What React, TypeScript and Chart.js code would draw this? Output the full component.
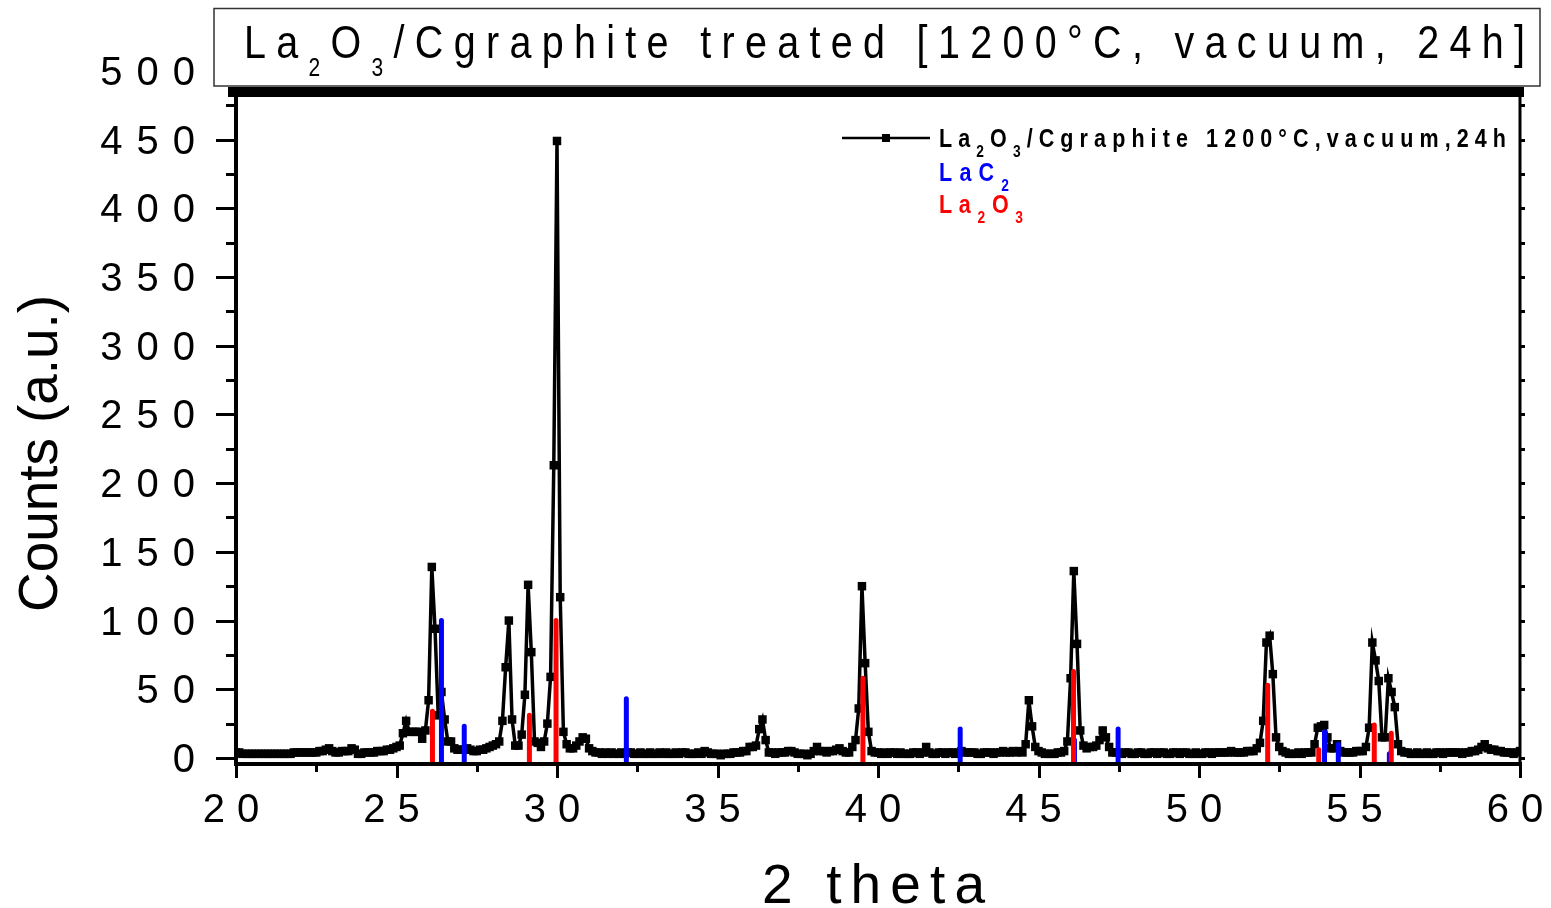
import React, { useEffect, useRef } from "react";
import { Chart, registerables } from "chart.js";

Chart.register(...registerables);

// ---------- data ----------
const thetaStart = 20;
const thetaStep = 0.1;
// measured counts, 20.0 .. 60.0 (one row per degree)
const counts: number[] = [
  4, 4, 3, 3, 3, 3, 3, 3, 3, 3,
  3, 3, 3, 3, 3, 3, 3, 3, 4, 4,
  4, 4, 4, 4, 4, 4, 5, 5, 6, 7,
  5, 4, 4, 5, 5, 5, 7, 6, 3, 3,
  4, 4, 4, 4, 5, 5, 5, 6, 6, 7,
  8, 9, 18, 27, 19, 19, 19, 19, 14, 20,
  42, 139, 94, 31, 48, 28, 12, 12, 7, 6,
  6, 6, 7, 6, 5, 5, 6, 6, 7, 8,
  9, 10, 12, 27, 66, 100, 28, 9, 9, 17,
  46, 126, 77, 12, 11, 8, 12, 25, 59, 213,
  449, 117, 19, 10, 7, 7, 9, 12, 15, 14,
  7, 5, 4, 4, 3, 4, 3, 4, 3, 3,
  4, 3, 4, 4, 3, 3, 4, 3, 3, 4,
  3, 3, 4, 3, 4, 3, 3, 4, 3, 4,
  4, 3, 3, 3, 4, 3, 5, 4, 3, 3,
  3, 2, 3, 3, 3, 4, 4, 4, 5, 5,
  8, 8, 9, 21, 28, 13, 4, 4, 3, 4,
  4, 4, 5, 5, 4, 3, 3, 3, 2, 3,
  5, 8, 5, 5, 4, 5, 5, 6, 7, 5,
  4, 4, 8, 13, 36, 125, 69, 19, 5, 4,
  4, 3, 4, 3, 4, 4, 3, 4, 3, 3,
  3, 4, 4, 3, 4, 8, 4, 3, 3, 4,
  4, 3, 4, 4, 3, 4, 5, 4, 4, 4,
  4, 3, 3, 4, 4, 4, 3, 4, 4, 5,
  4, 4, 5, 4, 5, 4, 10, 42, 23, 8,
  5, 4, 3, 3, 3, 3, 4, 4, 5, 12,
  58, 136, 83, 20, 9, 7, 8, 8, 9, 13,
  20, 15, 8, 4, 4, 4, 3, 4, 4, 3,
  3, 4, 4, 3, 3, 4, 4, 3, 4, 4,
  3, 3, 4, 4, 3, 4, 4, 3, 3, 4,
  3, 3, 4, 4, 3, 4, 4, 4, 4, 4,
  5, 4, 4, 4, 4, 5, 5, 5, 7, 11,
  27, 84, 89, 61, 15, 8, 5, 4, 3, 3,
  3, 4, 3, 4, 4, 4, 10, 22, 23, 24,
  15, 7, 7, 10, 5, 4, 4, 4, 4, 5,
  5, 5, 8, 22, 84, 71, 56, 15, 15, 58,
  48, 37, 10, 5, 4, 4, 3, 3, 4, 3,
  3, 4, 3, 3, 4, 4, 3, 4, 4, 4,
  4, 4, 3, 4, 4, 5, 5, 6, 8, 10,
  7, 6, 6, 5, 5, 4, 4, 4, 3, 4,
  5,
];

// reference stick patterns
const la2o3Positions = [26.12, 29.14, 29.97, 39.53, 46.09, 52.14, 53.73, 55.46, 55.99];
const la2o3Intensities = [34, 31, 100, 58, 63, 53, 6, 24, 18];
const lac2Positions = [26.4, 27.11, 32.16, 42.56, 46.12, 47.48, 53.91, 54.34, 55.93];
const lac2Intensities = [100, 23, 43, 21, 13, 21, 19, 10, 3];

const xTicks = [20, 25, 30, 35, 40, 45, 50, 55, 60];
const yTicks = [0, 50, 100, 150, 200, 250, 300, 350, 400, 450, 500];

const X_MIN = 20;
const X_MAX = 60;
const Y_MIN = -4.4;
const Y_MAX = 481;

const FONT = '"Liberation Sans", Arial, Helvetica, sans-serif';

type Seg = { t: string; sub?: boolean };

interface RichOpts {
  size: number;
  subSize?: number;
  subDy?: number;
  weight?: string;
  color: string;
  fit?: number;
  spacing?: number;
  sx?: number;
  align?: "left" | "center" | "right";
}

function drawRich(ctx: CanvasRenderingContext2D, segs: Seg[], x: number, y: number, o: RichOpts) {
  const weight = o.weight || "normal";
  const subSize = o.subSize || o.size * 0.6;
  const sx = o.sx || 1;
  const chars: { ch: string; sub: boolean; w: number }[] = [];
  for (const s of segs) {
    ctx.font = `${weight} ${s.sub ? subSize : o.size}px ${FONT}`;
    for (const ch of s.t) chars.push({ ch, sub: !!s.sub, w: ctx.measureText(ch).width * sx });
  }
  const sum = chars.reduce((a, c) => a + c.w, 0);
  const n = chars.length;
  let sp = o.spacing || 0;
  if (o.fit != null && n > 1) sp = (o.fit - sum) / (n - 1);
  const total = sum + sp * (n - 1);
  let cx = x;
  if (o.align === "center") cx = x - total / 2;
  else if (o.align === "right") cx = x - total;
  ctx.fillStyle = o.color;
  ctx.textAlign = "left";
  ctx.textBaseline = "alphabetic";
  for (const c of chars) {
    ctx.font = `${weight} ${c.sub ? subSize : o.size}px ${FONT}`;
    ctx.save();
    ctx.translate(cx, c.sub ? y + (o.subDy || 0) : y);
    ctx.scale(sx, 1);
    ctx.fillText(c.ch, 0, 0);
    ctx.restore();
    cx += c.w + sp;
  }
}

const framePlugin = {
  id: "xrdFrame",
  afterDraw(chart: any) {
    const ctx: CanvasRenderingContext2D = chart.ctx;
    const xs = chart.scales.x;
    const ys = chart.scales.y;
    const a = chart.chartArea;
    ctx.save();
    (ctx as any).letterSpacing = "0px";
    ctx.strokeStyle = "#000";
    ctx.fillStyle = "#000";
    ctx.lineCap = "butt";

    // axis lines
    ctx.lineWidth = 4;
    ctx.beginPath();
    ctx.moveTo(a.left, a.top);
    ctx.lineTo(a.left, a.bottom + 2);
    ctx.stroke();
    ctx.beginPath();
    ctx.moveTo(a.left - 2, a.bottom);
    ctx.lineTo(a.right + 2, a.bottom);
    ctx.stroke();
    ctx.lineWidth = 3;
    ctx.beginPath();
    ctx.moveTo(a.right, a.top);
    ctx.lineTo(a.right, a.bottom);
    ctx.stroke();
    // thick top bar
    ctx.fillRect(a.left - 8, a.top - 10, a.right - a.left + 12, 10);

    // y ticks (left outward, right outward small)
    ctx.lineWidth = 3;
    for (let v = 0; v < Y_MAX; v += 25) {
      const py = Math.round(ys.getPixelForValue(v)) + 0.5;
      const major = v % 50 === 0;
      ctx.beginPath();
      ctx.moveTo(a.left - (major ? 20 : 10), py);
      ctx.lineTo(a.left, py);
      ctx.stroke();
      ctx.beginPath();
      ctx.moveTo(a.right, py);
      ctx.lineTo(a.right + 5, py);
      ctx.stroke();
    }
    // x ticks (downward)
    for (let v = X_MIN; v <= X_MAX; v += 2.5) {
      const px = Math.round(xs.getPixelForValue(v)) + 0.5;
      const major = v % 5 === 0;
      ctx.beginPath();
      ctx.moveTo(px, a.bottom);
      ctx.lineTo(px, a.bottom + (major ? 14 : 8));
      ctx.stroke();
    }

    // y tick labels
    for (const v of yTicks) {
      const py = ys.getPixelForValue(v);
      drawRich(ctx, [{ t: String(v) }], 195, py + 14, {
        size: 40,
        color: "#000",
        spacing: 14,
        align: "right",
      });
    }
    // x tick labels
    for (const v of xTicks) {
      const px = xs.getPixelForValue(v);
      drawRich(ctx, [{ t: String(v) }], px - 5, 822, {
        size: 40,
        color: "#000",
        spacing: 12,
        align: "center",
      });
    }

    // axis titles
    drawRich(ctx, [{ t: "2 theta" }], 762, 903, { size: 55, color: "#000", fit: 223 });
    ctx.save();
    ctx.translate(57, 612);
    ctx.rotate(-Math.PI / 2);
    drawRich(ctx, [{ t: "Counts (a.u.)" }], 0, 0, { size: 55, color: "#000", fit: 317 });
    ctx.restore();

    // title box
    ctx.fillStyle = "#fff";
    ctx.fillRect(214, 8, 1326, 78);
    ctx.lineWidth = 1.5;
    ctx.strokeStyle = "#333";
    ctx.strokeRect(214, 8.5, 1326, 77.5);
    drawRich(
      ctx,
      [
        { t: "La" },
        { t: "2", sub: true },
        { t: "O" },
        { t: "3", sub: true },
        { t: "/Cgraphite treated [1200°C, vacuum, 24h]" },
      ],
      244,
      58,
      { size: 47, subSize: 25, subDy: 18, sx: 0.84, color: "#000", fit: 1281 }
    );

    // legend
    ctx.strokeStyle = "#000";
    ctx.lineWidth = 2.5;
    ctx.beginPath();
    ctx.moveTo(842, 138);
    ctx.lineTo(930, 138);
    ctx.stroke();
    ctx.fillStyle = "#000";
    ctx.fillRect(882, 134, 8, 8);
    drawRich(
      ctx,
      [
        { t: "La" },
        { t: "2", sub: true },
        { t: "O" },
        { t: "3", sub: true },
        { t: "/Cgraphite 1200°C,vacuum,24h" },
      ],
      939,
      147,
      { size: 25, subSize: 16, subDy: 10, sx: 0.86, weight: "bold", color: "#000", fit: 567 }
    );
    drawRich(ctx, [{ t: "LaC" }, { t: "2", sub: true }], 939, 181, {
      size: 25,
      subSize: 16,
      subDy: 10,
      sx: 0.86,
      weight: "bold",
      color: "#0000ff",
      fit: 70,
    });
    drawRich(
      ctx,
      [{ t: "La" }, { t: "2", sub: true }, { t: "O" }, { t: "3", sub: true }],
      939,
      213,
      { size: 25, subSize: 16, subDy: 10, sx: 0.86, weight: "bold", color: "#ff0000", fit: 84 }
    );

    ctx.restore();
  },
};

function sticks(pos: number[], inten: number[]) {
  const out: { x: number; y: number | null }[] = [];
  pos.forEach((p, i) => {
    out.push({ x: p, y: Y_MIN });
    out.push({ x: p, y: inten[i] });
    out.push({ x: p, y: null });
  });
  return out;
}

export default function App() {
  const ref = useRef<HTMLCanvasElement | null>(null);

  useEffect(() => {
    if (!ref.current) return;
    const pts = counts.map((v, i) => ({ x: +(thetaStart + i * thetaStep).toFixed(2), y: v }));
    const chart = new Chart(ref.current, {
      type: "line",
      data: {
        datasets: [
          {
            label: "La2O3/Cgraphite 1200°C,vacuum,24h",
            data: pts,
            borderColor: "#000",
            backgroundColor: "#000",
            borderWidth: 3.5,
            pointStyle: "rect",
            pointRadius: 6,
            pointBorderWidth: 0,
            pointBackgroundColor: "#000",
            tension: 0,
            order: 3,
          } as any,
          {
            label: "LaC2",
            data: sticks(lac2Positions, lac2Intensities),
            borderColor: "#0000ff",
            borderWidth: 5,
            borderCapStyle: "round",
            pointRadius: 0,
            spanGaps: false,
            order: 2,
          } as any,
          {
            label: "La2O3",
            data: sticks(la2o3Positions, la2o3Intensities),
            borderColor: "#ff0000",
            borderWidth: 5,
            borderCapStyle: "round",
            pointRadius: 0,
            spanGaps: false,
            order: 1,
          } as any,
        ],
      },
      options: {
        responsive: false,
        animation: false,
        events: [],
        layout: { padding: { left: 236, right: 31, top: 97, bottom: 144 } },
        plugins: {
          legend: { display: false },
          tooltip: { enabled: false },
          title: { display: false },
        },
        scales: {
          x: { type: "linear", min: X_MIN, max: X_MAX, display: false },
          y: { type: "linear", min: Y_MIN, max: Y_MAX, display: false },
        },
      },
      plugins: [framePlugin],
    });
    return () => chart.destroy();
  }, []);

  return (
    <div style={{ position: "fixed", left: 0, top: 0, width: 1551, height: 908, background: "#fff" }}>
      <canvas ref={ref} width={1551} height={908} style={{ display: "block" }} />
    </div>
  );
}
